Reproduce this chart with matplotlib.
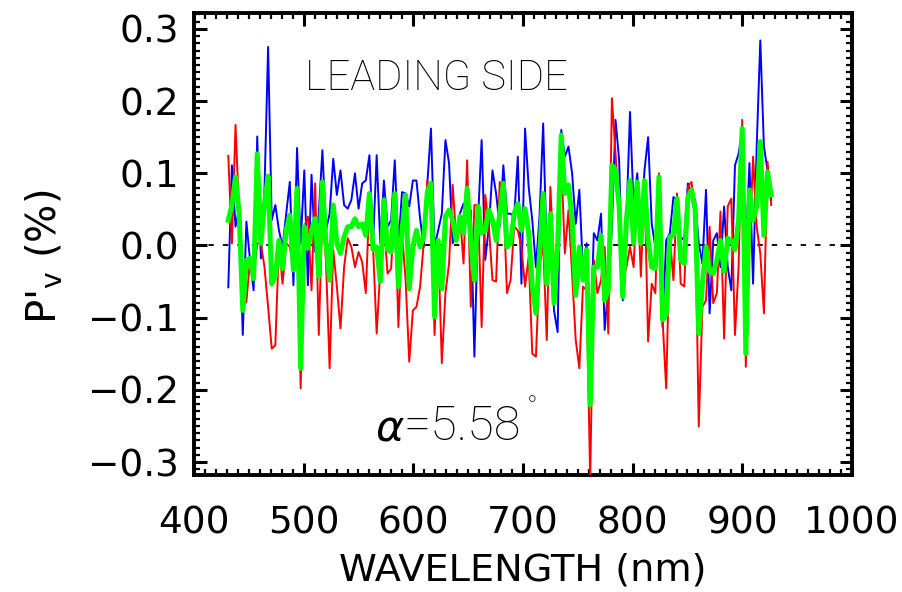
import matplotlib
matplotlib.use("Agg")
import matplotlib.pyplot as plt
from matplotlib.ticker import MultipleLocator

# Wavelength grid of the spectra (nm)
wavelength_nm = [
    431.3, 434.6, 437.9, 441.2, 444.5, 447.8, 451.1, 454.4, 457.7, 461.0,
    464.3, 467.6, 470.9, 474.2, 477.5, 480.8, 484.1, 487.4, 490.7, 494.0,
    497.3, 500.6, 503.9, 507.2, 510.5, 513.8, 517.1, 520.4, 523.7, 527.0,
    530.3, 533.6, 536.9, 540.2, 543.5, 546.8, 550.1, 553.4, 556.7, 560.0,
    563.3, 566.6, 569.9, 573.2, 576.5, 579.8, 583.1, 586.4, 589.7, 593.0,
    596.3, 599.6, 602.9, 606.2, 609.5, 612.8, 616.1, 619.4, 622.7, 626.0,
    629.3, 632.6, 635.9, 639.2, 642.5, 645.8, 649.1, 652.4, 655.7, 659.0,
    662.3, 665.6, 668.9, 672.2, 675.5, 678.8, 682.1, 685.4, 688.7, 692.0,
    695.3, 698.6, 701.9, 705.2, 708.5, 711.8, 715.1, 718.4, 721.7, 725.0,
    728.3, 731.6, 734.9, 738.2, 741.5, 744.8, 748.1, 751.4, 754.7, 758.0,
    761.3, 764.6, 767.9, 771.2, 774.5, 777.8, 781.1, 784.4, 787.7, 791.0,
    794.3, 797.6, 800.9, 804.2, 807.5, 810.8, 814.1, 817.4, 820.7, 824.0,
    827.3, 830.6, 833.9, 837.2, 840.5, 843.8, 847.1, 850.4, 853.7, 857.0,
    860.3, 863.6, 866.9, 870.2, 873.5, 876.8, 880.1, 883.4, 886.7, 890.0,
    893.3, 896.6, 899.9, 903.2, 906.5, 909.8, 913.1, 916.4, 919.7, 923.0,
    926.3,
]

pv_blue = [
    -0.058, 0.111, 0.026, 0.051, -0.124, 0.033, -0.020, -0.062, 0.151, -0.018,
    0.077, 0.275, 0.035, 0.056, 0.021, -0.002, 0.044, 0.088, -0.055, 0.135,
    0.003, 0.104, -0.055, 0.098, -0.009, 0.044,
    0.132, 0.021, 0.044, 0.120, 0.070, 0.104, 0.056, 0.051, 0.063, 0.100,
    0.051, 0.086, 0.090, 0.125, 0.003, 0.125, 0.003, 0.090, 0.026, 0.035,
    0.118, -0.002, 0.074, 0.072, 0.054, 0.090,
    0.090, 0.037, -0.002, 0.086, 0.162, -0.002, 0.021, 0.044, 0.146, 0.114,
    0.003, 0.017, 0.044, 0.058, 0.035, 0.049, -0.154, 0.035, 0.146, -0.020,
    0.026, 0.104, 0.072, 0.026, 0.111, 0.044,
    0.044, 0.040, 0.123, -0.053, 0.162, 0.081, 0.035, -0.030, 0.040, 0.169,
    -0.011, 0.040, -0.090, -0.120, 0.160, 0.123, 0.137, 0.100, 0.030, 0.077,
    -0.034, 0.003, -0.140, 0.017, 0.007, 0.044, -0.117,
    -0.057, 0.026, 0.174, 0.118, -0.076, 0.035, 0.185, 0.054, 0.100, 0.021,
    0.104, 0.150, 0.030, -0.002, 0.044, -0.113, 0.007, 0.017, 0.067, 0.063,
    0.007, 0.012, 0.086, 0.072, 0.063, 0.003,
    -0.025, 0.077, -0.094, 0.007, 0.017, -0.030, 0.054, -0.030, -0.062, 0.111,
    0.127, 0.160, -0.002, 0.114, -0.053, 0.137, 0.284, 0.137, 0.104, 0.063,
]

pv_red = [
    0.124, 0.003, 0.167, 0.044, -0.085, -0.078, -0.020, -0.043, 0.003, 0.003,
    -0.030, -0.085, -0.143, -0.138, 0.003, -0.053, 0.003, -0.002, -0.030, 0.044,
    -0.198, 0.026, 0.040, -0.062, 0.086, -0.124,
    0.044, -0.023, -0.170, -0.006, -0.057, -0.115, -0.030, 0.010, -0.002, -0.030,
    -0.009, -0.023, -0.066, 0.063, -0.002, -0.122, -0.034, 0.035, -0.039, -0.032,
    0.067, -0.113, 0.017, -0.048, -0.161, -0.090,
    -0.085, -0.057, 0.003, 0.090, 0.058, -0.124, 0.003, -0.163, -0.066, -0.025,
    0.084, 0.007, 0.044, -0.025, 0.118, -0.085, 0.056, 0.056, -0.113, 0.070,
    0.026, -0.048, -0.050, 0.088, 0.072, -0.066,
    -0.048, 0.026, 0.021, -0.002, -0.057, -0.016, -0.150, -0.154, -0.030, 0.003,
    -0.131, 0.081, -0.030, 0.003, 0.118, -0.011, 0.049, -0.039, -0.131, -0.170,
    -0.057, -0.062, -0.325, -0.020, -0.066, -0.048, -0.002,
    -0.122, 0.204, 0.127, 0.044, -0.048, -0.030, -0.002, -0.030, 0.086, -0.043,
    0.090, -0.133, -0.053, -0.066, 0.100, -0.103, -0.198, 0.012, -0.048, 0.072,
    -0.053, -0.057, 0.081, 0.088, 0.044, -0.251,
    -0.085, -0.076, 0.026, -0.080, -0.066, 0.047, -0.129, 0.054, 0.065, -0.124,
    -0.030, 0.174, -0.168, -0.002, 0.123, 0.026, -0.011, -0.094, 0.116, 0.056,
]

pv_green = [
    0.035, 0.056, 0.095, 0.044, -0.090, -0.020, -0.018, -0.046, 0.127, 0.003,
    0.058, 0.096, -0.053, -0.043, 0.007, -0.032, 0.021, 0.042, -0.034, 0.079,
    -0.170, 0.026, -0.004, 0.021, 0.037, -0.043,
    0.088, 0.003, -0.048, 0.056, 0.003, -0.011, 0.012, 0.026, 0.026, 0.037,
    0.026, 0.030, 0.014, 0.072, -0.006, -0.002, -0.050, 0.063, -0.006, -0.009,
    0.072, -0.057, 0.021, 0.070, -0.060, -0.002,
    0.021, -0.002, 0.012, 0.074, 0.086, -0.099, 0.007, -0.060, 0.040, 0.049,
    0.035, 0.007, 0.040, 0.017, 0.079, 0.007, -0.048, 0.054, 0.017, 0.021,
    0.049, 0.035, 0.007, 0.044, 0.086, -0.002,
    0.003, 0.044, 0.058, 0.021, 0.051, 0.017, -0.057, -0.094, -0.011, 0.072,
    -0.053, 0.044, -0.080, -0.002, 0.153, 0.072, 0.084, 0.035, -0.069, -0.002,
    -0.048, -0.006, -0.221, -0.030, -0.030, 0.014, -0.076,
    -0.062, 0.111, 0.104, 0.054, -0.071, 0.035, 0.090, 0.003, 0.088, 0.003,
    0.090, 0.007, -0.030, -0.032, 0.095, -0.103, -0.096, 0.012, 0.014, 0.065,
    -0.020, -0.025, 0.067, 0.077, 0.049, -0.122,
    -0.053, -0.002, -0.036, -0.039, -0.020, 0.007, -0.036, 0.010, 0.007, -0.006,
    0.035, 0.162, -0.150, 0.077, 0.035, 0.054, 0.144, 0.014, 0.102, 0.070,
]

x_ticks = [400, 500, 600, 700, 800, 900, 1000]
y_ticks = [-0.3, -0.2, -0.1, 0.0, 0.1, 0.2, 0.3]

fig = plt.figure(figsize=(9.03, 5.92), dpi=100)
ax = fig.add_axes([0.2148, 0.1976, 0.7287, 0.7804])

ax.plot(wavelength_nm, pv_blue, color="#0000ff", lw=1.4, zorder=2)
ax.plot(wavelength_nm, pv_red, color="#ff0000", lw=1.4, zorder=3)
ax.plot(wavelength_nm, pv_green, color="#00ff00", lw=3.6, zorder=4)
ax.axhline(0.0, color="black", lw=1.3, linestyle=(0, (3, 5)), zorder=1)

ax.set_xlim(400, 1000)
ax.set_ylim(-0.318, 0.322)
ax.set_xticks(x_ticks)
ax.set_yticks(y_ticks)
ax.set_xticklabels([str(t) for t in x_ticks])
ax.set_yticklabels(["\u22120.3", "\u22120.2", "\u22120.1", "0.0", "0.1", "0.2", "0.3"])
ax.xaxis.set_minor_locator(MultipleLocator(10))
ax.yaxis.set_minor_locator(MultipleLocator(0.01))
ax.tick_params(which="both", direction="in", top=True, right=True, labelsize=27, color="black")
ax.tick_params(which="major", length=9, width=2.2)
ax.tick_params(which="minor", length=4, width=1.6)
ax.tick_params(axis="x", which="major", pad=22)
ax.tick_params(axis="y", which="major", pad=11)
for side in ax.spines.values():
    side.set_linewidth(2.8)

ax.set_xlabel("WAVELENGTH (nm)", fontsize=27.5, labelpad=8)
# y label placed by hand, as in the original
fig.text(45 / 903, 1 - 257 / 592, r"P$'_{\rm v}$ (%)", fontsize=29, rotation=90,
         ha="center", va="center")

ax.text(0.369, 0.858, "LEADING SIDE", transform=ax.transAxes, fontsize=30,
        family="Roboto", fontweight="light", ha="center", va="center")
ax.text(0.298, 0.098, "\u03b1", transform=ax.transAxes, fontsize=31,
        family="DejaVu Sans", style="italic", fontweight="light", ha="center", va="center")
angle_txt = ax.text(0.319, 0.105, "=5.58", transform=ax.transAxes, fontsize=35,
                    family="Roboto", fontweight="light", ha="left", va="center")
ax.annotate("\u00b0", xy=(1.0, 0.9), xycoords=angle_txt, xytext=(4, 0),
            textcoords="offset points", fontsize=20, family="Roboto",
            fontweight="light", ha="left", va="center")

fig.savefig("out.png", dpi=100)
